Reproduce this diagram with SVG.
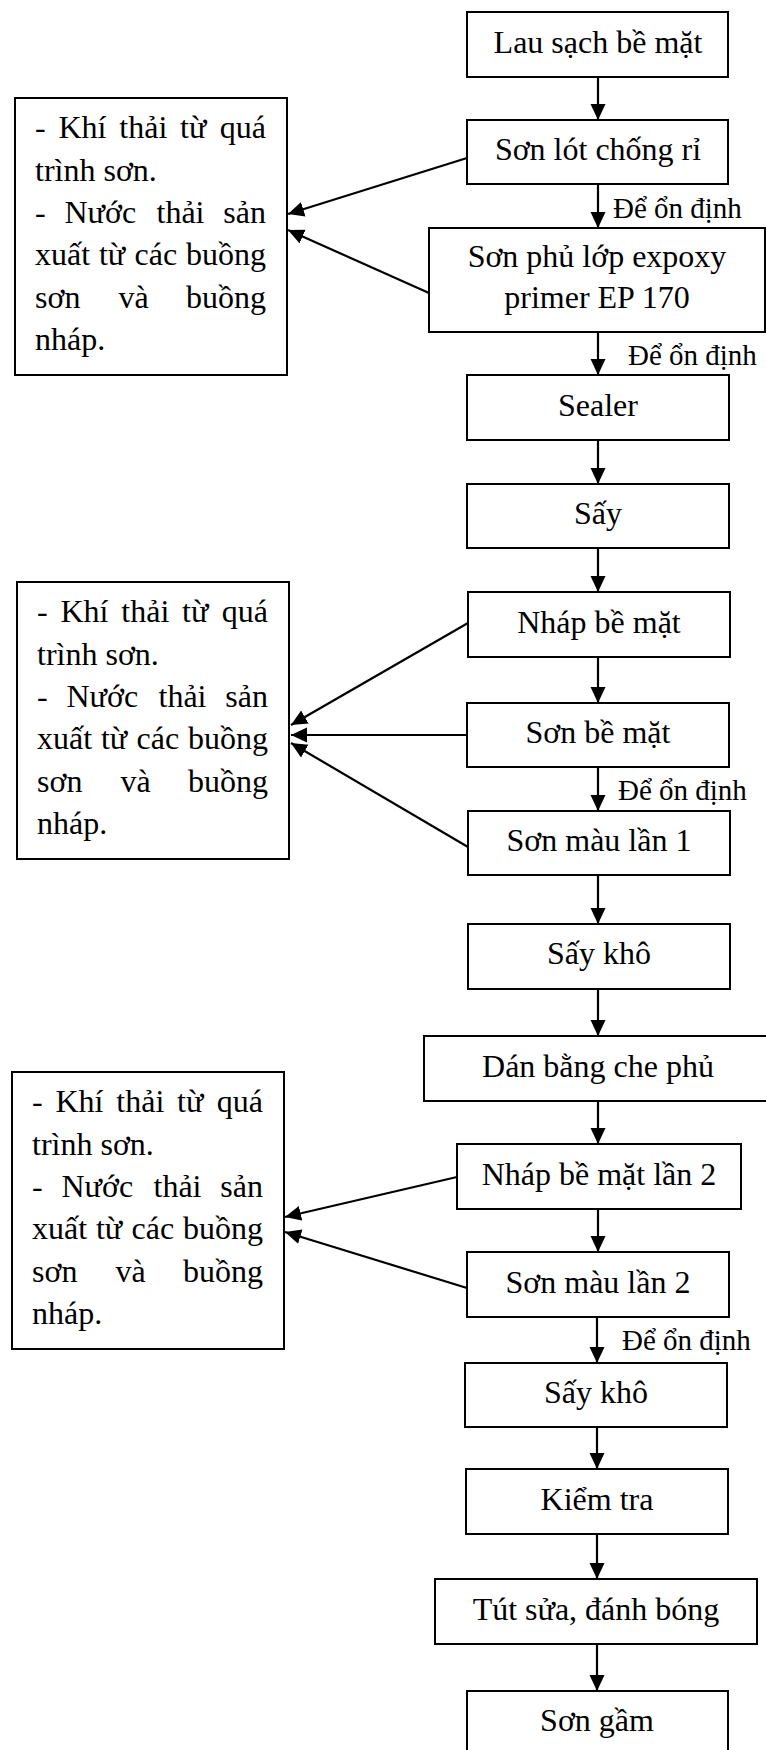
<svg xmlns="http://www.w3.org/2000/svg" width="766" height="1750" viewBox="0 0 766 1750">
  <defs>
    <style>
      .box { fill: #fff; stroke: #000; stroke-width: 2; }
      .t { font-family: "Liberation Serif", "Times New Roman", serif; font-size: 32px; fill: #000; }
      .c { text-anchor: middle; }
      .e { text-anchor: end; }
      .lbl { font-family: "Liberation Serif", "Times New Roman", serif; font-size: 29px; fill: #000; }
      .conn line { stroke: #000; stroke-width: 2.2; marker-end: url(#arrow); }
    </style>
    <marker id="arrow" markerUnits="userSpaceOnUse" viewBox="0 0 16 16" markerWidth="16" markerHeight="16" refX="16" refY="8" orient="auto">
      <path d="M0,0.5 L16,8 L0,15.5 z" fill="#000"/>
    </marker>
    <!-- emissions note, reused beside each painting stage -->
    <g id="note">
      <rect class="box" x="0" y="0" width="272" height="277"/>
      <text class="t" y="40"><tspan x="20">-</tspan><tspan x="43.5">Khí</tspan><tspan x="104.3">thải</tspan><tspan x="165.1">từ</tspan></text>
      <text class="t e" x="251" y="40">quá</text>
      <text class="t" x="20" y="83">trình sơn.</text>
      <text class="t" y="125"><tspan x="20">-</tspan><tspan x="49.5">Nước</tspan><tspan x="141.5">thải</tspan></text>
      <text class="t e" x="251" y="125">sản</text>
      <text class="t" y="167"><tspan x="20">xuất</tspan><tspan x="83.9">từ</tspan><tspan x="119.5">các</tspan></text>
      <text class="t e" x="251" y="167">buồng</text>
      <text class="t" x="20" y="210">sơn</text>
      <text class="t" x="103.6" y="210">và</text>
      <text class="t e" x="251" y="210">buồng</text>
      <text class="t" x="20" y="252">nháp.</text>
    </g>
  </defs>

  <rect width="766" height="1750" fill="#fff"/>

  <!-- side notes -->
  <g id="note1"><use href="#note" x="15" y="98"/></g>
  <g id="note2"><use href="#note" x="17" y="582"/></g>
  <g id="note3"><use href="#note" x="12" y="1072"/></g>

  <!-- process steps -->
  <g id="s01"><rect class="box" x="467" y="12" width="261" height="65"/><text class="t c" x="598" y="53">Lau sạch bề mặt</text></g>
  <g id="s02"><rect class="box" x="467" y="120" width="261" height="64"/><text class="t c" x="598" y="160">Sơn lót chống rỉ</text></g>
  <g id="s03"><rect class="box" x="429" y="228" width="336" height="104"/><text class="t c" x="597" y="267">Sơn phủ lớp expoxy</text><text class="t c" x="597" y="308">primer EP 170</text></g>
  <g id="s04"><rect class="box" x="467" y="375" width="262" height="65"/><text class="t c" x="598" y="416">Sealer</text></g>
  <g id="s05"><rect class="box" x="467" y="484" width="262" height="64"/><text class="t c" x="598" y="524">Sấy</text></g>
  <g id="s06"><rect class="box" x="468" y="592" width="262" height="65"/><text class="t c" x="599" y="633">Nháp bề mặt</text></g>
  <g id="s07"><rect class="box" x="467" y="703" width="262" height="64"/><text class="t c" x="598" y="743">Sơn bề mặt</text></g>
  <g id="s08"><rect class="box" x="468" y="811" width="262" height="64"/><text class="t c" x="599" y="851">Sơn màu lần 1</text></g>
  <g id="s09"><rect class="box" x="468" y="924" width="262" height="65"/><text class="t c" x="599" y="964">Sấy khô</text></g>
  <g id="s10"><rect class="box" x="424" y="1036" width="360" height="65"/><text class="t c" x="598" y="1077">Dán bằng che phủ</text></g>
  <g id="s11"><rect class="box" x="457" y="1144" width="284" height="65"/><text class="t c" x="599" y="1185">Nháp bề mặt lần 2</text></g>
  <g id="s12"><rect class="box" x="467" y="1252" width="262" height="65"/><text class="t c" x="598" y="1293">Sơn màu lần 2</text></g>
  <g id="s13"><rect class="box" x="465" y="1363" width="262" height="64"/><text class="t c" x="596" y="1403">Sấy khô</text></g>
  <g id="s14"><rect class="box" x="466" y="1469" width="262" height="65"/><text class="t c" x="597" y="1510">Kiểm tra</text></g>
  <g id="s15"><rect class="box" x="435" y="1579" width="322" height="65"/><text class="t c" x="596" y="1620">Tút sửa, đánh bóng</text></g>
  <g id="s16"><rect class="box" x="467" y="1691" width="261" height="80"/><text class="t c" x="597" y="1731">Sơn gầm</text></g>

  <!-- connectors -->
  <g id="connectors" class="conn">
    <line x1="598" y1="77" x2="598" y2="120"/>
    <line x1="598" y1="184" x2="598" y2="228"/>
    <line x1="598" y1="332" x2="598" y2="375"/>
    <line x1="598" y1="440" x2="598" y2="484"/>
    <line x1="598" y1="548" x2="598" y2="592"/>
    <line x1="598" y1="657" x2="598" y2="703"/>
    <line x1="598" y1="767" x2="598" y2="811"/>
    <line x1="598" y1="875" x2="598" y2="924"/>
    <line x1="598" y1="989" x2="598" y2="1036"/>
    <line x1="598" y1="1101" x2="598" y2="1144"/>
    <line x1="598" y1="1209" x2="598" y2="1252"/>
    <line x1="597" y1="1317" x2="597" y2="1363"/>
    <line x1="597" y1="1427" x2="597" y2="1469"/>
    <line x1="597" y1="1534" x2="597" y2="1579"/>
    <line x1="597" y1="1644" x2="597" y2="1691"/>

    <line x1="467" y1="158" x2="288" y2="214"/>
    <line x1="429" y1="293" x2="288" y2="230"/>

    <line x1="468" y1="623" x2="291" y2="725"/>
    <line x1="468" y1="735" x2="291" y2="735"/>
    <line x1="468" y1="847" x2="291" y2="743"/>

    <line x1="457" y1="1177" x2="285" y2="1217"/>
    <line x1="467" y1="1288" x2="285" y2="1232"/>

    <text class="lbl" x="613" y="218">Để ổn định</text>
    <text class="lbl" x="628" y="365">Để ổn định</text>
    <text class="lbl" x="618" y="800">Để ổn định</text>
    <text class="lbl" x="622" y="1350">Để ổn định</text>
  </g>
</svg>
